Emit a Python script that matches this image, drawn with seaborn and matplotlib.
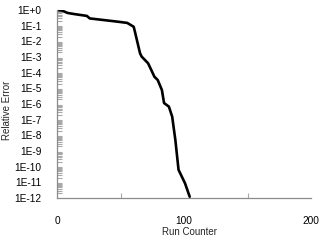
import matplotlib
matplotlib.use("Agg")
import matplotlib.pyplot as plt
import seaborn as sns
import numpy as np
import pandas as pd
from matplotlib.ticker import FixedLocator, LogLocator, NullFormatter, MultipleLocator

run_counter = [0, 3.8, 8.3, 13.6, 23.5, 25.8, 32.6, 47.7, 55.3, 60.4, 61.6, 65.4,
               66.7, 71.7, 74.2, 76.7, 79.3, 82.6, 84.3, 88.1, 90.7, 93.2, 95.7,
               98.3, 100.8, 104.5]
relative_error = [1.0, 0.93, 0.65, 0.55, 0.42, 0.29, 0.25, 0.18, 0.15, 0.085,
                  0.034, 1.7e-3, 1.05e-3, 4.0e-4, 1.5e-4, 5.5e-5, 3.4e-5, 7.8e-6,
                  1.15e-6, 6.8e-7, 1.55e-7, 5.0e-9, 6.3e-11, 2.3e-11, 8.7e-12, 1.2e-12]

y_tick_values = [1e0, 1e-1, 1e-2, 1e-3, 1e-4, 1e-5, 1e-6, 1e-7, 1e-8, 1e-9, 1e-10, 1e-11, 1e-12]
y_tick_labels = ["1E+0", "1E-1", "1E-2", "1E-3", "1E-4", "1E-5", "1E-6", "1E-7",
                 "1E-8", "1E-9", "1E-10", "1E-11", "1E-12"]
x_tick_values = [0, 100, 200]
x_tick_labels = ["0", "100", "200"]

sns.set_style("white")
plt.rcParams['font.family'] = ['Liberation Sans', 'DejaVu Sans']

W, H = 321, 242
fig = plt.figure(figsize=(W / 100, H / 100), dpi=100)
ax = fig.add_axes([57 / W, 1 - 198 / H, (311 - 57) / W, (198 - 10) / H])

df = pd.DataFrame({"Run Counter": run_counter, "Relative Error": relative_error})
sns.lineplot(data=df, x="Run Counter", y="Relative Error", ax=ax,
             color="black", linewidth=1.9, solid_joinstyle="round")

ax.set_yscale("log")
ax.set_ylim(1e-12, 1e0)
ax.set_xlim(0, 200)

ax.yaxis.set_major_locator(FixedLocator(y_tick_values))
ax.set_yticklabels(y_tick_labels)
ax.yaxis.set_minor_locator(LogLocator(base=10, subs=np.arange(2, 10), numticks=100))
ax.yaxis.set_minor_formatter(NullFormatter())

ax.set_xticks(x_tick_values)
ax.set_xticklabels(x_tick_labels)
ax.xaxis.set_minor_locator(MultipleLocator(50))

spine_color = "#8c8c8c"
for s in ["top", "right"]:
    ax.spines[s].set_visible(False)
for s in ["left", "bottom"]:
    ax.spines[s].set_color(spine_color)
    ax.spines[s].set_linewidth(0.9)

ax.tick_params(axis="both", which="major", direction="out", length=5, width=0.9,
               color=spine_color, labelsize=7.3, labelcolor="black")
ax.tick_params(axis="y", which="major", pad=6)
ax.tick_params(axis="x", which="major", pad=8)
ax.tick_params(axis="both", which="minor", direction="in", length=3.5, width=0.8,
               color="#a8a8a8")
ax.tick_params(axis="y", which="minor", left=True)
ax.tick_params(axis="x", which="minor", bottom=True)

ax.set_xlabel("Run Counter", fontsize=7.0, labelpad=0)
ax.set_ylabel("Relative Error", fontsize=7.0)
ax.xaxis.set_label_coords((189 - 57) / (311 - 57), -(232 - 198) / (198 - 10))
ax.yaxis.set_label_coords(-(57 - 7) / (311 - 57), (198 - 110) / (198 - 10))
ax.xaxis.label.set_va("center")
ax.yaxis.label.set_va("center")
ax.patch.set_alpha(0)

fig.savefig("out.png", dpi=100)
